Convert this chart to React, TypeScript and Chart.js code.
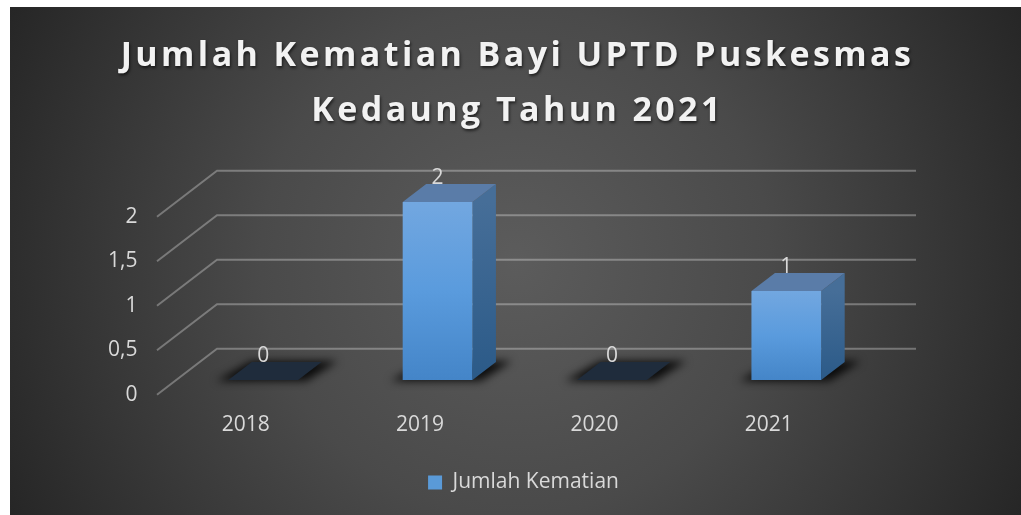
import React, { useEffect, useRef } from "react";
import { Chart, registerables } from "chart.js";

Chart.register(...registerables);

const categories = ["2018", "2019", "2020", "2021"];
const seriesName = "Jumlah Kematian";
const deaths = [0, 2, 0, 1];
const yTicks = [0, 0.5, 1, 1.5, 2];
const titleLines = ["Jumlah Kematian Bayi UPTD Puskesmas", "Kedaung Tahun 2021"];

const FONT = "'Open Sans'";
const TEXT = "#d9d9d9";
const WALL_DX = 60;
const WALL_DY = 46;
const BAR_DX = 17.5;
const BAR_DY = 14.7;
const SIDE_DX = 23.5;
const SIDE_DY = 18;
const SOLID = "#5a9ad8";

const grad = (ctx: CanvasRenderingContext2D, y0: number, y1: number, stops: string[]) => {
  const g = ctx.createLinearGradient(0, y0, 0, y1);
  stops.forEach((s, i) => g.addColorStop(i / (stops.length - 1), s));
  return g;
};

const titleStyle = {
  id: "titleStyle",
  afterLayout(chart: any) {
    const l = chart.legend;
    if (l) {
      l.left += 8;
      l.right += 8;
    }
    const t = chart.titleBlock;
    if (!t || t.__styled) return;
    const orig = t.draw.bind(t);
    t.draw = () => {
      const c = chart.ctx;
      c.save();
      c.translate(2, 0);
      c.letterSpacing = "3.4px";
      c.shadowColor = "rgba(0,0,0,0.6)";
      c.shadowBlur = 3;
      c.shadowOffsetX = 1;
      c.shadowOffsetY = 2;
      orig();
      c.restore();
    };
    t.__styled = true;
  },
};

const scene3d = {
  id: "scene3d",
  beforeDatasetsDraw(chart: any) {
    const { ctx, scales } = chart;
    const y = scales.y;
    const left = chart.chartArea.left - 1.5;
    const right = chart.chartArea.right;
    ctx.save();
    ctx.strokeStyle = "rgba(255,255,255,0.3)";
    ctx.lineWidth = 2;
    for (const v of yTicks) {
      const py = y.getPixelForValue(v);
      ctx.beginPath();
      ctx.moveTo(left, py);
      ctx.lineTo(left + WALL_DX, py - WALL_DY);
      ctx.lineTo(right + WALL_DX, py - WALL_DY);
      ctx.stroke();
    }
    ctx.restore();

    const meta = chart.getDatasetMeta(0);
    ctx.save();
    ctx.translate(BAR_DX, -BAR_DY);
    meta.data.forEach((bar: any, i: number) => {
      const hw = bar.width / 2;
      const l = bar.x - hw;
      const r = bar.x + hw;
      const top = bar.y;
      const base = bar.base;
      // blurred floor shadow
      ctx.save();
      ctx.filter = "blur(4px)";
      ctx.fillStyle = "rgba(0,0,0,0.85)";
      ctx.beginPath();
      ctx.moveTo(l - 12, base + 1);
      ctx.lineTo(r + 8, base + 1);
      ctx.lineTo(r + SIDE_DX + 16, base - SIDE_DY - 1);
      ctx.lineTo(l + SIDE_DX, base - SIDE_DY - 1);
      ctx.closePath();
      ctx.fill();
      ctx.restore();
      // side face
      ctx.fillStyle = grad(ctx, top, base, ["#466e98", "#2b5a88"]);
      ctx.beginPath();
      ctx.moveTo(r, top);
      ctx.lineTo(r + SIDE_DX, top - SIDE_DY);
      ctx.lineTo(r + SIDE_DX, base - SIDE_DY);
      ctx.lineTo(r, base);
      ctx.closePath();
      ctx.fill();
      // top face
      ctx.fillStyle = deaths[i] === 0 ? "#1f2c3c" : "#5a7ca8";
      ctx.beginPath();
      ctx.moveTo(l, top);
      ctx.lineTo(r, top);
      ctx.lineTo(r + SIDE_DX, top - SIDE_DY);
      ctx.lineTo(l + SIDE_DX, top - SIDE_DY);
      ctx.closePath();
      ctx.fill();
    });
    // native bars are drawn in the same shifted plane
  },
  afterDatasetsDraw(chart: any) {
    const { ctx } = chart;
    ctx.restore();
    const meta = chart.getDatasetMeta(0);
    ctx.save();
    ctx.fillStyle = TEXT;
    ctx.font = `21px ${FONT}`;
    ctx.textAlign = "center";
    ctx.textBaseline = "middle";
    meta.data.forEach((bar: any, i: number) => {
      ctx.fillText(String(deaths[i]), bar.x + BAR_DX, bar.y - BAR_DY - 24);
    });
    ctx.restore();
  },
};

export default function App() {
  const ref = useRef<HTMLCanvasElement>(null);
  useEffect(() => {
    const chart = new Chart(ref.current!, {
      type: "bar",
      data: {
        labels: categories,
        datasets: [
          {
            label: seriesName,
            data: deaths,
            barPercentage: 0.4,
            categoryPercentage: 1,
            borderWidth: 0,
            backgroundColor: (c: any) => {
              if (c.type !== "data") return SOLID;
              const ys = c.chart.scales.y;
              const y0 = ys.getPixelForValue(c.raw);
              const y1 = ys.getPixelForValue(0);
              if (!isFinite(y0) || !isFinite(y1) || y0 === y1) return SOLID;
              return grad(c.chart.ctx, y0, y1, ["#72a7e0", "#5a9bdd", "#4485c8"]);
            },
          },
        ],
      },
      options: {
        animation: false,
        responsive: false,
        devicePixelRatio: 1,
        layout: { padding: { left: 0, right: 0, top: 0, bottom: 12 } },
        plugins: {
          title: {
            display: true,
            text: titleLines,
            color: "#f2f2f2",
            font: { family: FONT, size: 34, weight: "bold", lineHeight: 1.6 },
            padding: { top: 22.5, bottom: 78.4 },
          },
          legend: {
            position: "bottom",
            labels: {
              color: TEXT,
              font: { family: FONT, size: 21 },
              boxWidth: 14,
              boxHeight: 14,
              padding: 10,
            },
          },
          tooltip: { enabled: false },
        },
        scales: {
          x: {
            grid: { display: false },
            border: { display: false },
            ticks: { color: TEXT, font: { family: FONT, size: 21 }, padding: 10 },
            afterFit: (s: any) => {
              s.height = 67.3;
            },
          },
          y: {
            min: 0,
            max: 2,
            afterBuildTicks: (s: any) => {
              s.ticks = yTicks.map((value) => ({ value }));
            },
            afterFit: (s: any) => {
              s.width = 148.5;
            },
            grid: { display: false },
            border: { display: false },
            ticks: {
              color: TEXT,
              font: { family: FONT, size: 21 },
              padding: 13,
              callback: (v: any) => String(v).replace(".", ","),
            },
          },
          rightInset: {
            type: "linear",
            position: "right",
            grid: { display: false },
            border: { display: false },
            ticks: { display: false },
            afterFit: (s: any) => {
              s.width = 165;
            },
          },
        },
      },
      plugins: [titleStyle, scene3d],
    } as any);
    return () => chart.destroy();
  }, []);
  return (
    <div
      style={{
        position: "absolute",
        left: 10,
        top: 7,
        width: 1011,
        height: 508,
        background: "radial-gradient(circle at 50% 50%, #5c5c5c 0%, #4a4a4a 45%, #262626 100%)",
      }}
    >
      <canvas ref={ref} width={1011} height={508} style={{ display: "block" }} />
    </div>
  );
}
